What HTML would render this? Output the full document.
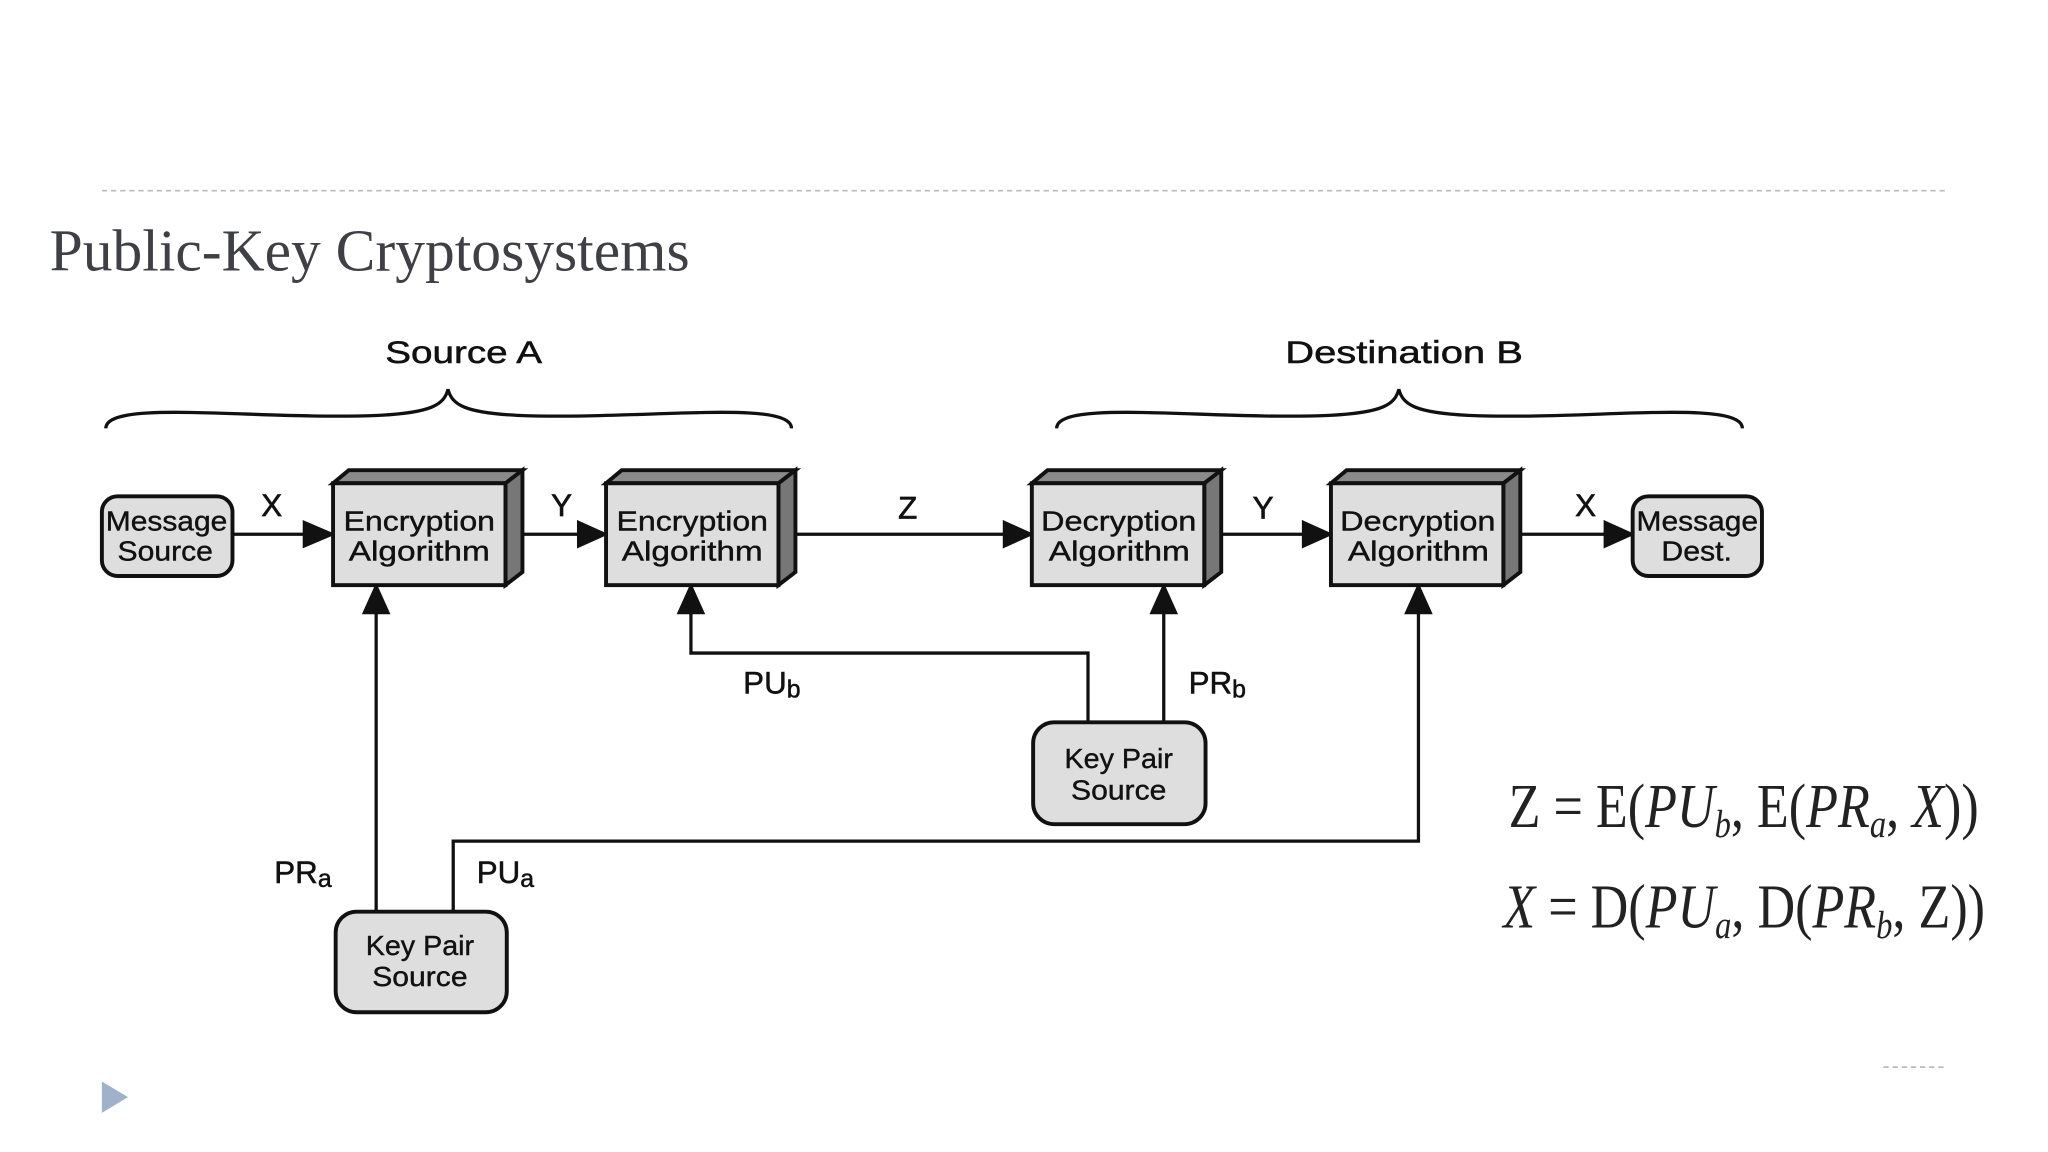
<!DOCTYPE html>
<html><head><style>html,body{margin:0;padding:0;background:#fff;}svg{display:block}</style></head>
<body>
<svg width="2048" height="1152" viewBox="0 0 1568 882" xmlns="http://www.w3.org/2000/svg">
<rect width="1568" height="882" fill="#fff"/>
<line x1="78" y1="146" x2="1490" y2="146" stroke="#bbb" stroke-width="1.3" stroke-dasharray="4,3"/>
<text x="38" y="207" font-family="Liberation Serif, serif" font-size="45" fill="#3f3f46" textLength="490" lengthAdjust="spacingAndGlyphs">Public-Key Cryptosystems</text>
<g font-family="Liberation Sans, sans-serif" fill="#111" font-size="24" stroke="#111" stroke-width="0.4">
<text x="295" y="278" textLength="120" lengthAdjust="spacingAndGlyphs">Source A</text>
<text x="984" y="278" textLength="182" lengthAdjust="spacingAndGlyphs">Destination B</text>
</g>
<g fill="none" stroke="#111" stroke-width="2.5">
<path d="M81,328 C81,305 200,322 290,318 C330,316 340,310 343,298 C346,310 356,316 396,318 C486,322 606,305 606,328"/>
<path d="M809,328 C809,305 928,322 1018,318 C1058,316 1068,310 1071,298 C1074,310 1084,316 1124,318 C1214,322 1334,305 1334,328"/>
</g>
<g stroke="#111" stroke-width="2.5" fill="none">
<line x1="178" y1="409" x2="233" y2="409"/><path d="M233,400 L254,409 L233,418Z" fill="#111"/>
<line x1="400" y1="409" x2="443" y2="409"/><path d="M443,400 L463,409 L443,418Z" fill="#111"/>
<line x1="609" y1="409" x2="769" y2="409"/><path d="M769,400 L789,409 L769,418Z" fill="#111"/>
<line x1="935" y1="409" x2="998" y2="409"/><path d="M998,400 L1018,409 L998,418Z" fill="#111"/>
<line x1="1164" y1="409" x2="1229" y2="409"/><path d="M1229,400 L1249,409 L1229,418Z" fill="#111"/>
<line x1="288" y1="698" x2="288" y2="468"/><path d="M279,469 L288,449 L297,469Z" fill="#111"/>
<polyline points="347,698 347,644 1086,644 1086,468"/><path d="M1077,469 L1086,449 L1095,469Z" fill="#111"/>
<polyline points="833,553 833,500 529,500 529,468"/><path d="M520,469 L529,449 L538,469Z" fill="#111"/>
<line x1="891" y1="553" x2="891" y2="468"/><path d="M882,469 L891,449 L900,469Z" fill="#111"/>
</g>
<g stroke="#111" stroke-width="3">
<rect x="78" y="380" width="100" height="61" rx="12" fill="#dedede"/>
<rect x="1250" y="380" width="99" height="61" rx="12" fill="#dedede"/>
<rect x="257" y="698" width="131" height="77" rx="16" fill="#dedede"/>
<rect x="791" y="553" width="132" height="78" rx="16" fill="#dedede"/>
</g>
<g stroke="#111" stroke-width="3" stroke-linejoin="miter">
<g id="b1">
<polygon points="255,370 267,360 400,360 387,370" fill="#8a8a8a"/>
<polygon points="387,370 400,360 400,438 387,448" fill="#777"/>
<rect x="255" y="370" width="132" height="78" fill="#dedede"/>
</g>
<use href="#b1" x="209"/>
<use href="#b1" x="535"/>
<use href="#b1" x="764"/>
</g>
<g font-family="Liberation Sans, sans-serif" font-size="21" fill="#111" stroke="#111" stroke-width="0.3" lengthAdjust="spacingAndGlyphs">
<text x="81" y="406" textLength="93" lengthAdjust="spacingAndGlyphs">Message</text><text x="90" y="429" textLength="73" lengthAdjust="spacingAndGlyphs">Source</text>
<text x="263" y="406" textLength="116" lengthAdjust="spacingAndGlyphs">Encryption</text><text x="267" y="429" textLength="108" lengthAdjust="spacingAndGlyphs">Algorithm</text>
<text x="472" y="406" textLength="116" lengthAdjust="spacingAndGlyphs">Encryption</text><text x="476" y="429" textLength="108" lengthAdjust="spacingAndGlyphs">Algorithm</text>
<text x="797" y="406" textLength="119" lengthAdjust="spacingAndGlyphs">Decryption</text><text x="803" y="429" textLength="108" lengthAdjust="spacingAndGlyphs">Algorithm</text>
<text x="1026" y="406" textLength="119" lengthAdjust="spacingAndGlyphs">Decryption</text><text x="1032" y="429" textLength="108" lengthAdjust="spacingAndGlyphs">Algorithm</text>
<text x="1253" y="406" textLength="93" lengthAdjust="spacingAndGlyphs">Message</text><text x="1272" y="429" textLength="54" lengthAdjust="spacingAndGlyphs">Dest.</text>
<text x="280" y="731" textLength="83" lengthAdjust="spacingAndGlyphs">Key Pair</text><text x="285" y="755" textLength="73" lengthAdjust="spacingAndGlyphs">Source</text>
<text x="815" y="588" textLength="83" lengthAdjust="spacingAndGlyphs">Key Pair</text><text x="820" y="612" textLength="73" lengthAdjust="spacingAndGlyphs">Source</text>
</g>
<g font-family="Liberation Sans, sans-serif" font-size="24" fill="#111" stroke="#111" stroke-width="0.5" text-anchor="middle">
<text x="208" y="395">X</text><text x="430" y="395">Y</text><text x="695" y="397">Z</text>
<text x="967" y="397">Y</text><text x="1214" y="395">X</text>
</g>
<g font-family="Liberation Sans, sans-serif" font-size="24" fill="#111" stroke="#111" stroke-width="0.4">
<text x="569" y="531">PU<tspan font-size="19" dy="3">b</tspan></text>
<text x="910" y="531">PR<tspan font-size="19" dy="3">b</tspan></text>
<text x="210" y="676">PR<tspan font-size="19" dy="3">a</tspan></text>
<text x="365" y="676">PU<tspan font-size="19" dy="3">a</tspan></text>
</g>
<g font-family="Liberation Serif, serif" font-size="48" fill="#222">
<text transform="translate(1155,633) scale(0.8,1)" textLength="450" lengthAdjust="spacingAndGlyphs">Z = E(<tspan font-style="italic">PU</tspan><tspan font-style="italic" font-size="30" dy="8">b</tspan><tspan dy="-8">, E(</tspan><tspan font-style="italic">PR</tspan><tspan font-style="italic" font-size="30" dy="8">a</tspan><tspan dy="-8">, </tspan><tspan font-style="italic">X</tspan>))</text>
<text transform="translate(1151,710) scale(0.8,1)" textLength="461" lengthAdjust="spacingAndGlyphs"><tspan font-style="italic">X</tspan> = D(<tspan font-style="italic">PU</tspan><tspan font-style="italic" font-size="30" dy="8">a</tspan><tspan dy="-8">, D(</tspan><tspan font-style="italic">PR</tspan><tspan font-style="italic" font-size="30" dy="8">b</tspan><tspan dy="-8">, Z))</tspan></text>
</g>
<polygon points="78,828 98,840 78,852" fill="#9fb2ca"/>
<line x1="1442" y1="817" x2="1490" y2="817" stroke="#bbb" stroke-width="1.3" stroke-dasharray="4,3"/>
</svg>
</body></html>
